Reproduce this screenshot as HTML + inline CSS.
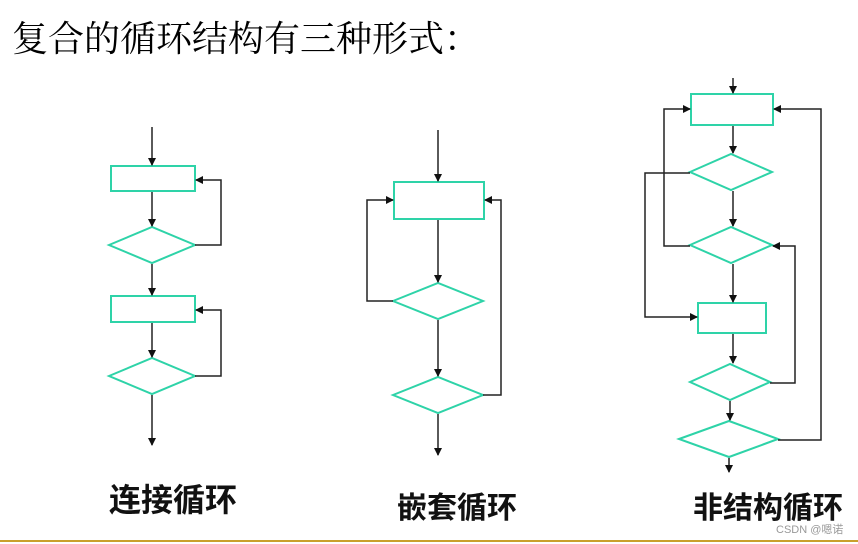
<!DOCTYPE html>
<html><head><meta charset="utf-8"><style>
body{margin:0;background:#fff;}
svg{display:block}
</style></head><body>
<svg width="858" height="544" xmlns="http://www.w3.org/2000/svg">
<defs><marker id="a" markerWidth="8" markerHeight="8" refX="7" refY="4" orient="auto" markerUnits="userSpaceOnUse"><path d="M0,0 L8,4 L0,8 z" fill="#111"/></marker></defs>
<rect width="858" height="544" fill="#fff"/>
<text x="12" y="51" font-family="'Liberation Serif','Noto Serif CJK SC',serif" font-size="36" fill="#000">复合的循环结构有三种形式：</text>
<g fill="none" stroke="#2ed3a8" stroke-width="2">
<rect x="111" y="166" width="84" height="25"/>
<polygon points="109,245 152,227 195,245 152,263"/>
<rect x="111" y="296" width="84" height="26"/>
<polygon points="109,376 152,358 195,376 152,394"/>
<rect x="394" y="182" width="90" height="37"/>
<polygon points="393,301 438,283 483,301 438,319"/>
<polygon points="393,395 438,377 483,395 438,413"/>
<rect x="691" y="94" width="82" height="31"/>
<polygon points="690,172 731,154 772,172 731,190"/>
<polygon points="690,245 731,227 772,245 731,263"/>
<rect x="698" y="303" width="68" height="30"/>
<polygon points="690,382 730,364 770,382 730,400"/>
<polygon points="679,439 729,421 778,439 729,457"/>
</g>
<g fill="none" stroke="#222" stroke-width="1.5" marker-end="url(#a)">
<path d="M152,127 V165"/>
<path d="M152,192 V226"/>
<path d="M195,245 H221 V180 H196"/>
<path d="M152,264 V295"/>
<path d="M152,323 V357"/>
<path d="M195,376 H221 V310 H196"/>
<path d="M152,395 V445"/>
<path d="M438,130 V181"/>
<path d="M438,220 V282"/>
<path d="M393,301 H367 V200 H393"/>
<path d="M438,320 V376"/>
<path d="M483,395 H501 V200 H485"/>
<path d="M438,414 V455"/>
<path d="M733,78 V93"/>
<path d="M733,126 V153"/>
<path d="M690,173 H645 V317 H697"/>
<path d="M733,191 V226"/>
<path d="M690,246 H664 V109 H690"/>
<path d="M733,264 V302"/>
<path d="M733,334 V363"/>
<path d="M770,383 H795 V246 H773"/>
<path d="M730,401 V420"/>
<path d="M778,440 H821 V109 H774"/>
<path d="M729,458 V472"/>
</g>
<g font-family="'Liberation Sans','Noto Sans CJK SC',sans-serif" font-weight="bold" fill="#111">
<text x="109" y="511" font-size="32">连接循环</text>
<text x="397" y="518" font-size="30">嵌套循环</text>
<text x="693" y="518" font-size="30">非结构循环</text>
</g>
<text x="776" y="533" font-family="'Liberation Sans','Noto Sans CJK SC',sans-serif" font-size="11" fill="#999">CSDN @嗯诺</text>
<rect x="0" y="540" width="858" height="2" fill="#c9a02c"/>
</svg>
</body></html>
